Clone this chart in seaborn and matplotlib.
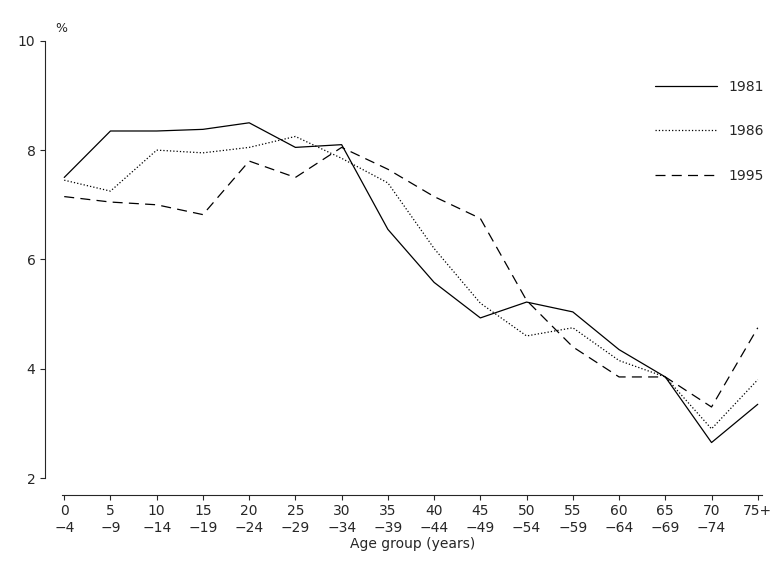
import matplotlib
matplotlib.use("Agg")
import matplotlib.pyplot as plt
import seaborn as sns
import pandas as pd

age_groups = ["0\n\u22124", "5\n\u22129", "10\n\u221214", "15\n\u221219", "20\n\u221224", "25\n\u221229",
              "30\n\u221234", "35\n\u221239", "40\n\u221244", "45\n\u221249", "50\n\u221254", "55\n\u221259",
              "60\n\u221264", "65\n\u221269", "70\n\u221274", "75+"]
y1981 = [7.5, 8.35, 8.35, 8.38, 8.5, 8.05, 8.1, 6.55, 5.58, 4.93, 5.22, 5.04, 4.35, 3.85, 2.65, 3.35]
y1986 = [7.45, 7.25, 8.0, 7.95, 8.05, 8.25, 7.85, 7.4, 6.2, 5.2, 4.6, 4.75, 4.15, 3.85, 2.9, 3.8]
y1995 = [7.15, 7.05, 7.0, 6.82, 7.8, 7.5, 8.05, 7.65, 7.15, 6.75, 5.25, 4.4, 3.85, 3.85, 3.3, 4.75]

df = pd.DataFrame({"x": list(range(len(age_groups))) * 3,
                   "pct": y1981 + y1986 + y1995,
                   "year": ["1981"] * 16 + ["1986"] * 16 + ["1995"] * 16})

sns.set_style("ticks")
plt.rcParams["font.family"] = ["DejaVu Sans"]
fig, ax = plt.subplots(figsize=(7.74, 5.83), dpi=100)
styles = {"1981": "-", "1986": ":", "1995": (0, (8, 5))}
for yr, sub in df.groupby("year"):
    sns.lineplot(data=sub, x="x", y="pct", ax=ax, color="black", lw=0.9,
                 linestyle=styles[yr], label=yr)

ax.set_ylim(2, 10)
ax.set_xlim(-0.05, 15.1)
ax.set_yticks([2, 4, 6, 8, 10])
ax.set_xticks(range(16))
ax.set_xticklabels(age_groups, fontsize=10, linespacing=1.0)
ax.tick_params(axis="y", labelsize=10)
ax.set_xlabel("Age group (years)", fontsize=10, labelpad=2)
ax.set_ylabel("")
ax.text(-0.01, 1.02, "%", transform=ax.transAxes, fontsize=9)
sns.despine(ax=ax, offset=12)
leg = ax.legend(loc="upper right", bbox_to_anchor=(1.02, 0.94), frameon=False,
                handlelength=4.5, labelspacing=2.2, fontsize=10)
fig.subplots_adjust(left=0.08, right=0.985, top=0.93, bottom=0.18)
fig.savefig("out.png", dpi=100)
